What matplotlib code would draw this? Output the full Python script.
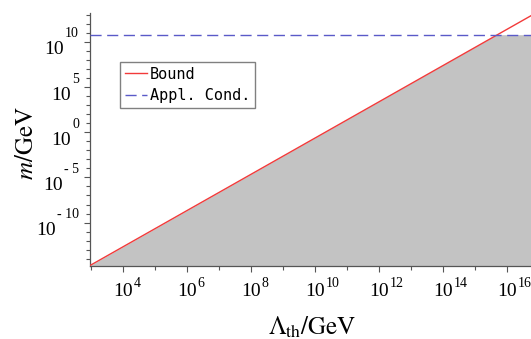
import numpy as np
import matplotlib
matplotlib.use("Agg")
import matplotlib.pyplot as plt
from matplotlib.ticker import NullFormatter

plt.rcParams["mathtext.fontset"] = "stix"

# values (log10 units)
bound_lam = [2.96, 16.74]        # log10(Lambda_th / GeV)
bound_m = [-14.75, 12.9]         # log10(m / GeV)
cond_m = 10.8                    # applicability condition, log10(m / GeV)
fill_lam = [2.96, 15.67, 16.74]  # edge of the shaded region
fill_m = [-14.75, 10.8, 10.8]

x_major = [4, 6, 8, 10, 12, 14, 16]
y_major = [-10, -5, 0, 5, 10]
xlim = (2.96, 16.74)
ylim = (-14.75, 13.2)

W, H = 531, 339
fig = plt.figure(figsize=(W/100, H/100), dpi=100)
ax = fig.add_axes([90/W, 1-265.5/H, 1-90/W, (265.5-13)/H])

ax.fill_between(10.0**np.array(fill_lam), 10.0**ylim[0], 10.0**np.array(fill_m),
                color="#c3c3c3", lw=0, zorder=1)
ax.plot(10.0**np.array(bound_lam), 10.0**np.array(bound_m), color="#f23a3a", lw=1.0,
        label="Bound", zorder=3)
ax.plot(10.0**np.array(xlim), [10.0**cond_m]*2, color="#5a5ac8", lw=1.0,
        dashes=(8, 4), label="Appl. Cond.", zorder=3)

ax.set_xscale("log")
ax.set_yscale("log")
ax.set_xlim(10.0**xlim[0], 10.0**xlim[1])
ax.set_ylim(10.0**ylim[0], 10.0**ylim[1])

ax.set_xticks([10.0**e for e in x_major])
ax.set_xticks([10.0**e for e in range(3, 17)], minor=True)
ax.set_yticks([10.0**e for e in y_major])
ax.set_yticks([10.0**e for e in range(-14, 14)], minor=True)
ax.xaxis.set_major_formatter(NullFormatter())
ax.xaxis.set_minor_formatter(NullFormatter())
ax.yaxis.set_major_formatter(NullFormatter())
ax.yaxis.set_minor_formatter(NullFormatter())
ax.tick_params(which="both", direction="out", color="#555555", width=0.8)
ax.tick_params(which="major", length=4)
ax.tick_params(which="minor", length=3)

for s in ["top", "right"]:
    ax.spines[s].set_visible(False)
for s in ["left", "bottom"]:
    ax.spines[s].set_color("#555555")
    ax.spines[s].set_linewidth(0.9)

serif = "Liberation Serif"
base_fs = 14
exp_fs = 10

# x tick labels, Maple style: 10 with raised exponent
for e in x_major:
    ax.annotate("10", xy=(10.0**e, 0), xycoords=("data", "axes fraction"),
                xytext=(0, -26), textcoords="offset pixels",
                ha="center", va="center", fontsize=base_fs, family=serif)
    ax.annotate(str(e), xy=(10.0**e, 0), xycoords=("data", "axes fraction"),
                xytext=(10, -18), textcoords="offset pixels",
                ha="left", va="center", fontsize=exp_fs, family=serif)

# y tick labels
exps = []
for e in y_major:
    t = ax.annotate(str(e).replace("-", "- "), xy=(0, 10.0**e),
                    xycoords=("axes fraction", "data"),
                    xytext=(-11, 8), textcoords="offset pixels",
                    ha="right", va="center", fontsize=exp_fs, family=serif)
    exps.append((e, t))
fig.canvas.draw()
r = fig.canvas.get_renderer()
x_axis_px = ax.transAxes.transform((0, 0))[0]
for e, t in exps:
    bb = t.get_window_extent(r)
    ax.annotate("10", xy=(0, 10.0**e), xycoords=("axes fraction", "data"),
                xytext=(bb.x0 - x_axis_px - 1, -8), textcoords="offset pixels",
                ha="right", va="center", fontsize=base_fs, family=serif)

fig.text(312/W, 1-327/H, r"$\Lambda_{\rm th}/{\rm GeV}$", fontsize=18,
         ha="center", va="center")
fig.text(26/W, 1-143/H, r"$m/{\rm GeV}$", fontsize=18, rotation=90,
         ha="center", va="center")

leg = ax.legend(loc="upper left", bbox_to_anchor=(120/W, 1-62/H),
                bbox_transform=fig.transFigure, borderaxespad=0,
                prop={"family": "DejaVu Sans Mono", "size": 11},
                handlelength=1.45, handletextpad=0.2, labelspacing=0.45,
                borderpad=0.3, fancybox=False, framealpha=1, edgecolor="#808080")
leg.get_frame().set_linewidth(1.0)

fig.savefig("out.png", dpi=100)
